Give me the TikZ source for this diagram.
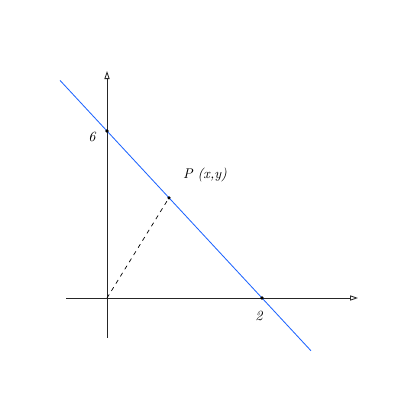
\documentclass[tikz,border=0pt]{standalone}
\usepackage{amsmath}
\usepackage{xcolor}
\usetikzlibrary{arrows.meta}

\definecolor{linea}{RGB}{30,100,255}

\tikzset{
  eje/.style={line width=0.6pt, black!85, -{Triangle[open,length=2mm,width=1.3mm]}},
  punto/.style={circle, fill=black, inner sep=0pt, minimum size=0.9mm},
}

\begin{document}
\begin{tikzpicture}[x=1.9375cm, y=0.6958cm, font=\normalsize\itshape]
\useasboundingbox (-1.381,-3.665) rectangle (3.781,10.708);

\coordinate (xi) at (-0.529,0);
\coordinate (xf) at (3.239,0);
\coordinate (yi) at (0,-1.437);
\coordinate (yf) at (0,8.156);
\coordinate (O) at (0,0);
\coordinate (li) at (-0.606,7.818);
\coordinate (lf) at (2.632,-1.896);

\draw[eje] (xi) -- (xf);
\draw[eje] (yi) -- (yf);

\draw[linea, line width=0.6pt] (li) -- (lf);

\node[punto] (A) at (0,6) {};
\node[punto] (B) at (2,0) {};
\node[punto] (P) at (0.8,3.6) {};

\draw[dashed, line width=0.5pt] (O) -- (P);

\node (lA) at (-0.194,5.785) {6};
\node (lB) at (1.961,-0.647) {2};
\node (lP) at (1.265,4.42) {P (x,y)};
\end{tikzpicture}
\end{document}
